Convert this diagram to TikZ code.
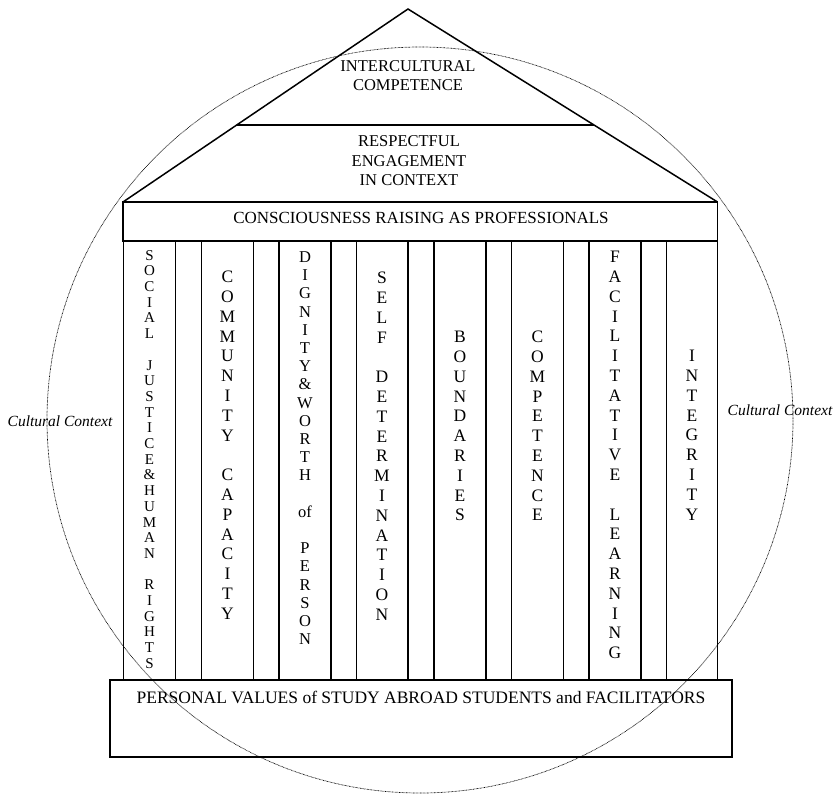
\documentclass[tikz,border=0pt]{standalone}
\usepackage{fontspec}
\setmainfont{Liberation Serif}
\usetikzlibrary{calc}
\tikzset{
  frame/.style={draw=black, line width=1.5pt, line join=miter},
  ctx/.style={draw=black, line width=0.7pt, dash pattern=on 0.7pt off 0.7pt},
  lbl/.style={inner sep=0pt, align=center, font=\fontsize{17}{20}\selectfont},
  baselbl/.style={inner sep=0pt, align=center, font=\fontsize{17.5}{20}\selectfont},
  toplbl/.style={inner sep=0pt, align=center, font=\fontsize{16.5}{19.5}\selectfont},
  ctxlbl/.style={inner sep=0pt, font=\fontsize{15.5}{18}\selectfont\itshape},
  colbig/.style={inner sep=0pt, anchor=north, align=center, font=\fontsize{17.5}{19.8}\selectfont},
  colmid/.style={inner sep=0pt, anchor=north, align=center, font=\fontsize{16.5}{18.2}\selectfont},
  colsmall/.style={inner sep=0pt, anchor=north, align=center, font=\fontsize{15}{15.7}\selectfont},
}
\begin{document}
\begin{tikzpicture}[x=1pt, y=-1pt]
\useasboundingbox (0,0) rectangle (836,795);
% cultural context circle
\draw[ctx] (420,420) circle[radius=373];
% roof
\coordinate (apex) at (408,9);
\coordinate (bl) at (123,202);
\coordinate (br) at (717.5,202);
\draw[frame] (bl) -- (apex) -- (br);
\coordinate (il) at ($(apex)!{(125-9)/(202-9)}!(bl)$);
\coordinate (ir) at ($(apex)!{(125-9)/(202-9)}!(br)$);
\draw[frame] (il) -- (ir);
% beam
\draw[frame] (123,202) rectangle (717.5,241);
% columns
\foreach \a/\b in {123.5/175.5, 201.5/253.5, 279/331, 356.5/408, 434/486, 511.5/563.5, 589/641, 666.5/717.5}
  \draw[frame] (\a,241) rectangle (\b,680);
% base
\draw[frame] (110,680) rectangle (732,757);
% texts
\node[toplbl] (ic) at (408,75.5) {INTERCULTURAL\\COMPETENCE};
\node[toplbl] (re) at (409,161) {RESPECTFUL\\ENGAGEMENT\\IN CONTEXT};
\node[lbl] (cr) at (421,218) {CONSCIOUSNESS RAISING AS PROFESSIONALS};
\node[baselbl] (pv) at (421,697) {PERSONAL VALUES of STUDY ABROAD STUDENTS and FACILITATORS};
\node[ctxlbl] (ccl) at (60,421) {Cultural Context};
\node[ctxlbl] (ccr) at (780,410) {Cultural Context};
\node[colsmall] (c1) at (149.5,250) {S\\O\\C\\I\\A\\L\\ \\J\\U\\S\\T\\I\\C\\E\\\&\\H\\U\\M\\A\\N\\ \\R\\I\\G\\H\\T\\S};
\node[colbig] (c2) at (227.5,271) {C\\O\\M\\M\\U\\N\\I\\T\\Y\\ \\C\\A\\P\\A\\C\\I\\T\\Y};
\node[colmid] (c3) at (305,251.5) {D\\I\\G\\N\\I\\T\\Y\\\&\\W\\O\\R\\T\\H\\ \\of\\ \\P\\E\\R\\S\\O\\N};
\node[colbig] (c4) at (382,272) {S\\E\\L\\F\\ \\D\\E\\T\\E\\R\\M\\I\\N\\A\\T\\I\\O\\N};
\node[colbig] (c5) at (460,331) {B\\O\\U\\N\\D\\A\\R\\I\\E\\S};
\node[colbig] (c6) at (537.5,331) {C\\O\\M\\P\\E\\T\\E\\N\\C\\E};
\node[colbig] (c7) at (615,251) {F\\A\\C\\I\\L\\I\\T\\A\\T\\I\\V\\E\\ \\L\\E\\A\\R\\N\\I\\N\\G};
\node[colbig] (c8) at (692,350) {I\\N\\T\\E\\G\\R\\I\\T\\Y};
\end{tikzpicture}
\end{document}
